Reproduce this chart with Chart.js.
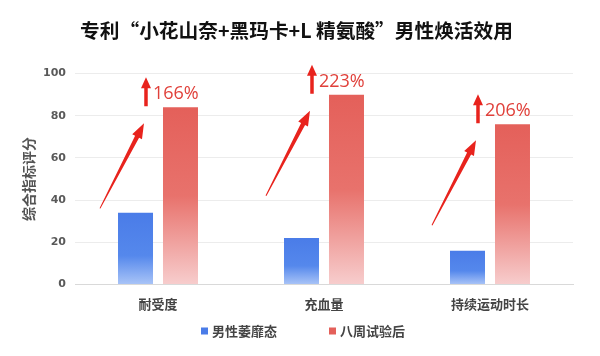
<!DOCTYPE html>
<html><head><meta charset="utf-8">
<script src="https://cdn.jsdelivr.net/npm/chart.js@4.4.0/dist/chart.umd.min.js"></script>
<style>html,body{margin:0;padding:0;background:#fff}#wrap{width:600px;height:356px}</style>
</head><body><div id="wrap"><canvas id="c"></canvas></div>
<script>
const titleText = '专利“小花山奈+黑玛卡+L 精氨酸”男性焕活效用';
const categories = ['耐受度', '充血量', '持续运动时长'];
const seriesNames = ['男性萎靡态', '八周试验后'];
const beforeValues = [34, 22, 16];
const afterValues = [84, 90, 76];
const increaseLabels = ['166%', '223%', '206%'];
const yTicks = [0, 20, 40, 60, 80, 100];
const yTitle = '综合指标评分';
const seriesColors = ['#4a7ce8', '#e4605a'];

function barGradient(ctx, stops) {
  const chart = ctx.chart;
  const area = chart.chartArea;
  if (!area || ctx.type !== 'data') return stops[0][1];
  const y = chart.scales.y;
  const top = y.getPixelForValue(ctx.raw);
  const base = y.getPixelForValue(0);
  const g = chart.ctx.createLinearGradient(0, top, 0, base);
  stops.forEach(s => g.addColorStop(s[0], s[1]));
  return g;
}
const blueStops = [[0, '#4a7ce8'], [0.6, '#5588ec'], [1, '#a9c4f7']];
const redStops = [[0, '#e4605a'], [0.5, '#e8726c'], [1, '#f7cdcd']];

function drawTaperArrow(ctx, x0, y0, x1, y1, w0, w1, headLen, headW, color) {
  const dx = x1 - x0, dy = y1 - y0;
  const len = Math.hypot(dx, dy);
  const ux = dx / len, uy = dy / len;
  const px = -uy, py = ux;
  const hx = x1 - ux * headLen, hy = y1 - uy * headLen;
  ctx.save();
  ctx.fillStyle = color;
  ctx.beginPath();
  ctx.moveTo(x0 + px * w0 / 2, y0 + py * w0 / 2);
  ctx.lineTo(hx + px * w1 / 2, hy + py * w1 / 2);
  ctx.lineTo(hx + px * headW / 2, hy + py * headW / 2);
  ctx.lineTo(x1, y1);
  ctx.lineTo(hx - px * headW / 2, hy - py * headW / 2);
  ctx.lineTo(hx - px * w1 / 2, hy - py * w1 / 2);
  ctx.lineTo(x0 - px * w0 / 2, y0 - py * w0 / 2);
  ctx.closePath();
  ctx.fill();
  ctx.restore();
}

const arrowPlugin = {
  id: 'arrows',
  afterDatasetsDraw(chart) {
    const ctx = chart.ctx;
    const meta = chart.getDatasetMeta(1);
    meta.data.forEach((bar, i) => {
      const L = bar.x - bar.width / 2;
      const T = bar.y;
      drawTaperArrow(ctx, L - 63, T + 101, L - 19, T + 16, 1, 4.5, 15, 11, '#e8231d');
      drawTaperArrow(ctx, L - 17, T - 1, L - 17, T - 30, 3.5, 3.5, 11, 10, '#e8231d');
      ctx.save();
      ctx.fillStyle = '#e0403a';
      ctx.font = '18px "Open Sans", "DejaVu Sans", sans-serif';
      ctx.textAlign = 'left';
      ctx.textBaseline = 'middle';
      ctx.fillText(increaseLabels[i], L - 10, T - 13);
      ctx.restore();
    });
  }
};

const legendPlugin = {
  id: 'customLegend',
  afterDraw(chart) {
    const ctx = chart.ctx;
    const cx = chart.width / 2;
    const y = 331;
    const xs = [cx - 99, cx + 29];
    ctx.save();
    ctx.font = 'bold 13px "Noto Sans CJK SC", sans-serif';
    ctx.textBaseline = 'middle';
    ctx.textAlign = 'left';
    seriesNames.forEach((name, i) => {
      ctx.fillStyle = seriesColors[i];
      ctx.fillRect(xs[i], y - 3.5, 7, 7);
      ctx.fillStyle = '#444';
      ctx.fillText(name, xs[i] + 11, y);
    });
    ctx.restore();
  }
};

new Chart(document.getElementById('c'), {
  type: 'bar',
  data: {
    labels: categories,
    datasets: [
      { label: seriesNames[0], data: beforeValues, backgroundColor: c => barGradient(c, blueStops) },
      { label: seriesNames[1], data: afterValues, backgroundColor: c => barGradient(c, redStops) }
    ]
  },
  options: {
    responsive: true,
    maintainAspectRatio: false,
    animation: false,
    devicePixelRatio: 1,
    datasets: { bar: { categoryPercentage: 0.542, barPercentage: 0.778 } },
    layout: { padding: { left: 20, right: 27, top: 0, bottom: 40 } },
    plugins: {
      title: {
        display: true,
        text: titleText,
        color: '#111',
        font: { family: '"Noto Sans CJK SC", sans-serif', size: 19.7, weight: 'bold' },
        padding: { top: 19, bottom: 31 }
      },
      legend: { display: false },
      tooltip: { enabled: false }
    },
    scales: {
      x: {
        grid: { display: false },
        border: { display: true, color: '#d9d9d9' },
        ticks: { color: '#444', padding: 4, font: { family: '"Noto Sans CJK SC", sans-serif', size: 13, weight: 'bold' } }
      },
      y: {
        min: 0, max: 100,
        afterBuildTicks(scale) { scale.ticks = yTicks.map(v => ({ value: v })); },
        afterFit(scale) { scale.width = 55; },
        grid: { color: '#ececec', drawTicks: false },
        border: { display: false },
        ticks: { color: '#595959', padding: 9, font: { family: '"DejaVu Sans", sans-serif', size: 11, weight: 'bold' } },
        title: {
          display: true, text: yTitle, color: '#555', padding: 0,
          font: { family: '"Noto Sans CJK SC", sans-serif', size: 14, weight: 'bold' }
        }
      }
    }
  },
  plugins: [arrowPlugin, legendPlugin]
});
</script>
</body></html>
